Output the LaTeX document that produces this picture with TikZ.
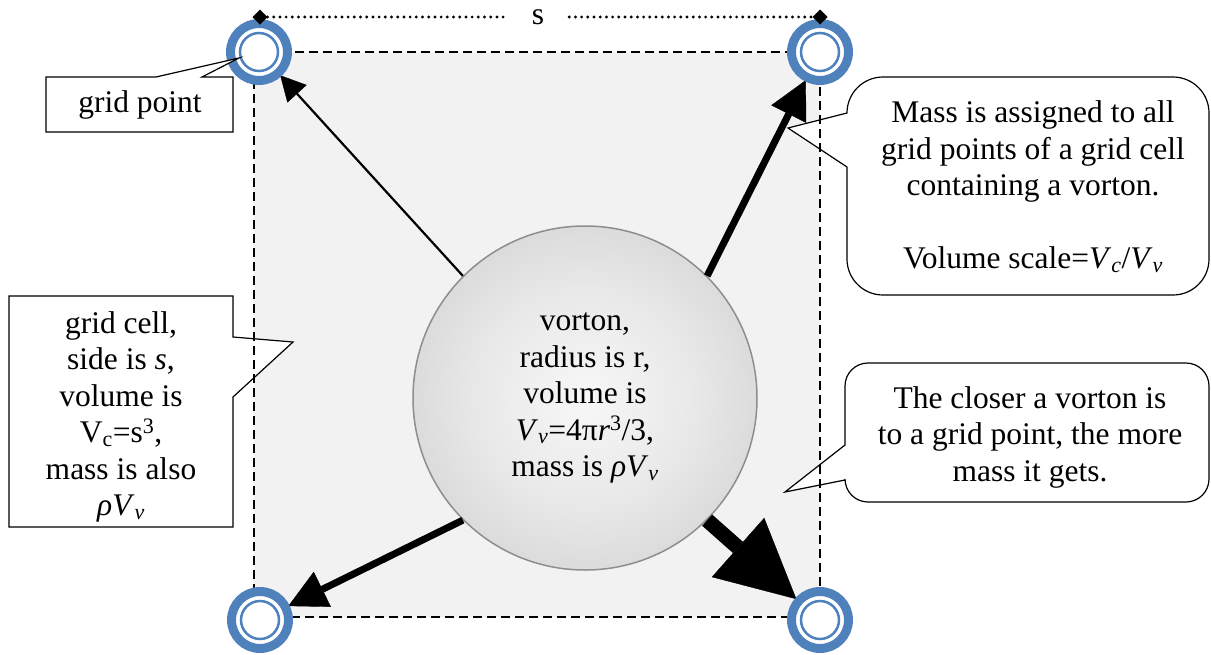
\documentclass[tikz,border=0pt]{standalone}
\usepackage{fontspec}
\setmainfont{Liberation Serif}
\usetikzlibrary{positioning, shapes.geometric, arrows.meta}

\definecolor{gpblue}{HTML}{4F81BD}
\definecolor{cellgray}{HTML}{F2F2F2}
\definecolor{rimgray}{HTML}{8E8E8E}

\pgfdeclarelayer{cellfill}
\pgfdeclarelayer{cellborder}
\pgfdeclarelayer{gridpts}
\pgfsetlayers{cellfill,main,cellborder,gridpts}

\pgfdeclareradialshading{vortonball}{\pgfpointorigin}{%
  color(0bp)=(black!3); color(16bp)=(black!9); color(34bp)=(black!19); color(50bp)=(black!28)}

\tikzset{
  txt/.style={font=\fontsize{31.5}{36.5}\selectfont, align=center, inner sep=0pt},
  gridpt/.style={circle, draw=gpblue, line width=9pt, fill=white, minimum size=57pt,
    inner sep=0pt, outer sep=3pt,
    path picture={\draw[gpblue, line width=2.5pt] (path picture bounding box.center) circle (19pt);}},
  vorton/.style={txt, circle, minimum size=344pt, shade, shading=vortonball, draw=rimgray, line width=1.5pt},
  calloutline/.style={draw=black, fill=white, line width=1.2pt, line join=miter},
  cellline/.style={draw=black, line width=1.8pt, dash pattern=on 9pt off 5pt},
  sdots/.style={line width=3.2pt, line cap=round, dash pattern=on 0pt off 6.2pt},
  sdiamond/.style={diamond, fill=black, minimum size=15pt, inner sep=0pt, outer sep=0pt},
  thinpush/.style={line width=2.2pt, -{Triangle[length=25pt, width=26pt, line width=0.4pt]}},
  midpush/.style={line width=7pt, -{Triangle[length=38pt, width=39pt, line width=0.4pt]}},
  bigpush/.style={line width=15pt, -{Triangle[length=78pt, width=79pt, line width=0.4pt]}}
}

\begin{document}
\begin{tikzpicture}[x=1pt, y=-1pt]
  \useasboundingbox (0,0) rectangle (1211,654);

  % grid cell
  \begin{pgfonlayer}{cellfill}
    \fill[cellgray] (254,52) rectangle (820,617);
  \end{pgfonlayer}
  \begin{pgfonlayer}{cellborder}
    \draw[cellline] (254,52) rectangle (820,617);
  \end{pgfonlayer}

  \begin{pgfonlayer}{gridpts}
    % grid points
    \node[gridpt] (gTL) at (259,52) {};
    \node[gridpt] (gTR) at (820,52) {};
    \node[gridpt] (gBL) at (260,620) {};
    \node[gridpt] (gBR) at (820,620) {};

    % side length s
    \node[sdiamond] (dL) at (260,17) {};
    \node[sdiamond] (dR) at (820,17) {};
    \node[txt, minimum width=62pt] (sLab) at (538,17) {s};
    \draw[sdots] (dL) -- (sLab);
    \draw[sdots] (sLab) -- (dR);
  \end{pgfonlayer}

  % vorton
  \node[vorton] (vort) at (585,398) {vorton,\\ radius is r,\\ volume is\\
    \textit{V}\textsubscript{\textit{v}}=4π\textit{r}\textsuperscript{3}/3,\\
    mass is \textit{ρV}\textsubscript{\textit{v}}};

  % mass going to the grid points
  \draw[thinpush] (vort.135) -- (gTL);
  \draw[midpush] (vort.45) -- (gTR);
  \draw[midpush] (vort.-135) -- (gBL);
  \draw[bigpush] (vort.-45) -- (gBR);

  % callouts
  \draw[calloutline] (9,296) -- (233,296) -- (233,337) -- (293,342) -- (233,397)
    -- (233,527) -- (9,527) -- cycle;
  \node[txt] (cellNote) at (121,417) {grid cell,\\ side is \textit{s},\\ volume is\\
    V\textsubscript{c}=s\textsuperscript{3},\\ mass is also\\ \textit{ρV}\textsubscript{\textit{v}}};

  \draw[calloutline] (847,113) -- (788,128) -- (847,167)
    -- (847,259) arc[start angle=180, end angle=90, radius=36]
    -- (1173,295) arc[start angle=90, end angle=0, radius=36]
    -- (1209,113) arc[start angle=0, end angle=-90, radius=36]
    -- (883,77) arc[start angle=270, end angle=180, radius=36] -- cycle;
  \node[txt] (massNote) at (1033,187) {Mass is assigned to all\\ grid points of a grid cell\\
    containing a vorton.\\[36.5pt]
    Volume scale=\textit{V}\textsubscript{\textit{c}}/\textit{V}\textsubscript{\textit{v}}};

  \draw[calloutline] (845,445) -- (785,492) -- (845,480)
    -- (845,479) arc[start angle=180, end angle=90, radius=23]
    -- (1186,502) arc[start angle=90, end angle=0, radius=23]
    -- (1209,386) arc[start angle=0, end angle=-90, radius=23]
    -- (868,363) arc[start angle=270, end angle=180, radius=23] -- cycle;
  \node[txt] (closeNote) at (1030,437) {The closer a vorton is\\ to a grid point, the more\\
    mass it gets.};

  \begin{pgfonlayer}{gridpts}
    \draw[calloutline] (46,77) -- (156,77) -- (239,58) -- (202,77) -- (233,77)
      -- (233,132) -- (46,132) -- cycle;
    \node[txt] (gpNote) at (140,105) {grid point};
  \end{pgfonlayer}
\end{tikzpicture}
\end{document}
